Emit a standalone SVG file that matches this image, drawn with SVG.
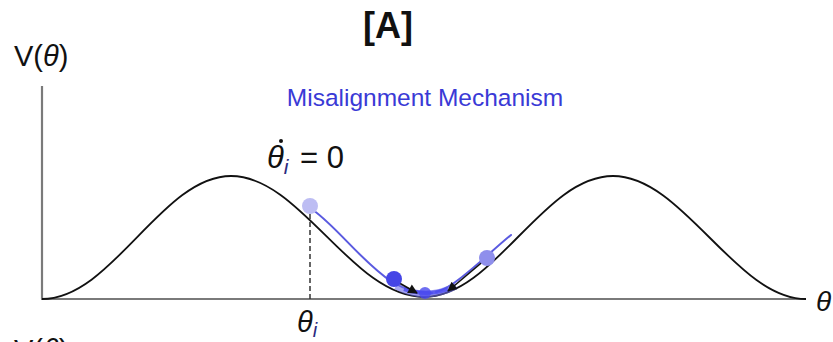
<svg xmlns="http://www.w3.org/2000/svg" width="833" height="342" viewBox="0 0 833 342">
<defs>
<style>
.t{font-family:"Liberation Sans",Arial,sans-serif;fill:#111}
.it{font-style:italic}
.axis{stroke:#7a7a7a;stroke-width:2.2;fill:none}
.traj{stroke:#5a5ae0;stroke-width:2;fill:none;stroke-linecap:round}
</style>
<marker id="ah" viewBox="0 0 10 10" refX="9" refY="5" markerWidth="7" markerHeight="6" orient="auto">
<path d="M0,0 L10,5 L0,10 z" fill="#111"/>
</marker>
</defs>
<rect width="833" height="342" fill="#fff"/>
<g id="title"><text class="t" x="388" y="38" font-size="36" font-weight="bold" text-anchor="middle">[A]</text></g>
<g id="axes">
<line class="axis" x1="42" y1="86" x2="42" y2="299"/>
<line class="axis" x1="41" y1="299" x2="806" y2="299"/>
<text class="t" x="14" y="66" font-size="29">V(<tspan class="it">θ</tspan>)</text>
<text class="t it" x="816" y="311" font-size="28">θ</text>
<text class="t" x="14" y="360" font-size="29">V(<tspan class="it">θ</tspan>)</text>
</g>
<g id="potential">
<path d="M42,299 C112,299 162,176 231,176 C301,176 352,297 424,297 C494,297 543,176 613,176 C683,176 736,299 806,299" fill="none" stroke="#111" stroke-width="1.8"/>
</g>
<g id="label-mech"><text x="425" y="106" font-family="Liberation Sans, Arial, sans-serif" font-size="24.5" fill="#3a3ad6" text-anchor="middle">Misalignment Mechanism</text></g>
<g id="label-init">
<text class="t" x="267" y="168" font-size="31"><tspan class="it">θ</tspan><tspan class="it" font-size="21" dy="6" fill="#2a2a80">i</tspan></text>
<text class="t" x="300" y="168" font-size="31">= 0</text>
<circle cx="281" cy="141" r="2" fill="#111"/>
<line x1="310" y1="214" x2="310" y2="299" stroke="#333" stroke-width="1.5" stroke-dasharray="5,3"/>
<text class="t" x="297" y="332" font-size="29"><tspan class="it">θ</tspan><tspan class="it" font-size="20" dy="5" fill="#2a2a80">i</tspan></text>
</g>
<g id="connectors">
<path class="traj" d="M313,210 C338,228 362,262 392,282 C404,289 418,293 432,293"/>
<path class="traj" d="M511,235 C495,248 480,263 462,277 C452,285 444,290 436,292"/>
<path d="M396,286 Q425,302 456,286" fill="none" stroke="#6a6ae8" stroke-width="7" opacity="0.6"/>
<path d="M404,289 Q426,297 448,289" fill="none" stroke="#4a4af0" stroke-width="4" opacity="0.8"/>
<line x1="394" y1="280" x2="417" y2="293" stroke="#111" stroke-width="1.6" marker-end="url(#ah)"/>
<line x1="486" y1="259" x2="448" y2="291" stroke="#111" stroke-width="1.6" marker-end="url(#ah)"/>
</g>
<g id="balls">
<circle cx="310" cy="206" r="8" fill="#bdbdf3"/>
<circle cx="487" cy="258" r="8" fill="#8f8fec"/>
<circle cx="394" cy="279" r="8" fill="#4545e6"/>
<circle cx="425" cy="293" r="6" fill="#4a4aee" opacity="0.8"/>
</g>
</svg>
